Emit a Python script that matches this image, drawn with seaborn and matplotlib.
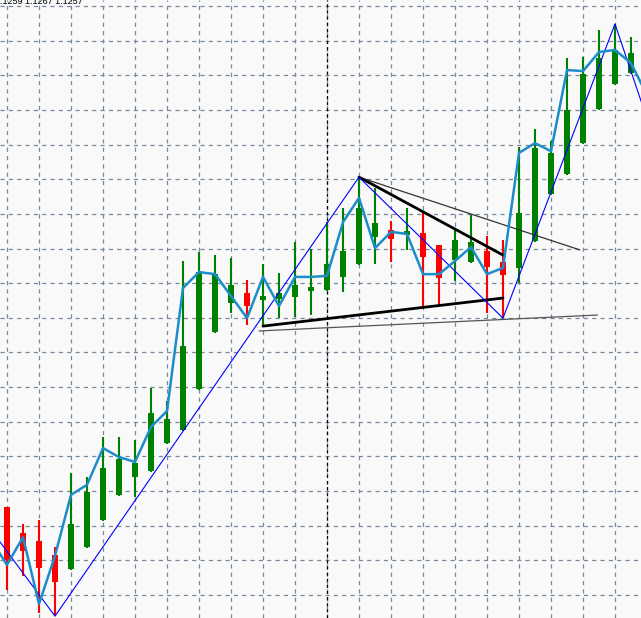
import numpy as np
import pandas as pd
import matplotlib
matplotlib.use("Agg")
import matplotlib.pyplot as plt
import seaborn as sns

# ---------------- data ----------------
bar_index = list(range(40))
open_ = [1.11354, 1.11279, 1.11256, 1.11215, 1.11175, 1.11239, 1.11316, 1.11389, 1.11441, 1.11458,
         1.11539, 1.11576, 1.11695, 1.11859, 1.11943, 1.11972, 1.11951, 1.11954, 1.11960, 1.11977,
         1.11980, 1.12018, 1.12055, 1.12133, 1.12153, 1.12139, 1.12145, 1.12110, 1.12067, 1.12061,
         1.12093, 1.12061, 1.12044, 1.12122, 1.12257, 1.12315, 1.12404, 1.12503, 1.12575, 1.12607]
high = [1.11354, 1.11305, 1.11316, 1.11239, 1.11452, 1.11441, 1.11556, 1.11556, 1.11547, 1.11697,
        1.11660, 1.12064, 1.12090, 1.12081, 1.12073, 1.12009, 1.12055, 1.12029, 1.12119, 1.12099,
        1.12176, 1.12217, 1.12306, 1.12275, 1.12179, 1.12217, 1.12205, 1.12110, 1.12159, 1.12197,
        1.12136, 1.12125, 1.12393, 1.12445, 1.12410, 1.12650, 1.12653, 1.12731, 1.12748, 1.12710]
low = [1.11114, 1.11155, 1.11048, 1.11039, 1.11172, 1.11236, 1.11314, 1.11386, 1.11383, 1.11455,
       1.11536, 1.11573, 1.11692, 1.11856, 1.11914, 1.11879, 1.11873, 1.11899, 1.11902, 1.11908,
       1.11977, 1.11974, 1.12052, 1.12055, 1.12061, 1.12096, 1.11931, 1.11937, 1.12006, 1.12058,
       1.11914, 1.11899, 1.12000, 1.12119, 1.12254, 1.12312, 1.12402, 1.12500, 1.12572, 1.12604]
close = [1.11201, 1.11227, 1.11178, 1.11138, 1.11305, 1.11397, 1.11467, 1.11493, 1.11481, 1.11625,
         1.11608, 1.11819, 1.12032, 1.12026, 1.11995, 1.11934, 1.11963, 1.11972, 1.11995, 1.11989,
         1.12055, 1.12093, 1.12217, 1.12174, 1.12127, 1.12151, 1.12075, 1.12015, 1.12125, 1.12119,
         1.12047, 1.12024, 1.12202, 1.12390, 1.12376, 1.12500, 1.12604, 1.12650, 1.12673, 1.12664]

line_index = list(range(-1, 41))
line_values = [1.11259, 1.11187, 1.11267, 1.11074, 1.11213, 1.11389, 1.11418, 1.11524, 1.11498, 1.11484,
               1.11585, 1.11631, 1.11986, 1.12032, 1.12026, 1.11963, 1.11899, 1.12018, 1.11934, 1.12018,
               1.12018, 1.12021, 1.12176, 1.12246, 1.12101, 1.12148, 1.12142, 1.12026, 1.12026, 1.12064,
               1.12104, 1.12026, 1.12044, 1.12376, 1.12404, 1.12381, 1.12615, 1.12612, 1.12667, 1.12673,
               1.12635, 1.12543]

zigzag_index = [-4, 3, 22, 31, 38, 41]
zigzag_values = [1.11475, 1.11039, 1.12306, 1.11899, 1.12748, 1.12338]

upper_thick_x = [22, 31]
upper_thick_y = [1.12306, 1.12081]
lower_thick_x = [16, 31]
lower_thick_y = [1.11876, 1.11957]
upper_thin_x = [22, 35.8]
upper_thin_y = [1.12306, 1.12096]
lower_thin_x = [15.75, 36.9]
lower_thin_y = [1.11862, 1.11908]

separator_bar = 20
header_text = "1.1259 1.1267 1.1257"

# ---------------- styling ----------------
sns.set_style("white")
plt.rcParams["lines.scale_dashes"] = False

W, H = 641, 618
fig = plt.figure(figsize=(W / 100, H / 100), dpi=100)
ax = fig.add_axes([0, 0, 1, 1])
bg = "#f9f9fa"
fig.patch.set_facecolor(bg)
ax.set_facecolor(bg)

ax.set_xlim((0 - 7) / 16, (W - 7) / 16)
y_bottom = 1.1110 - 23 / 34650
y_top = 1.1110 + 595 / 34650
ax.set_ylim(y_bottom, y_top)

ax.set_xticks(np.arange(0, 40, 2))
ax.set_yticks([round(1.111 + 0.001 * n, 4) for n in range(18)])
ax.grid(True, color="#778899", linestyle=(0, (3, 3)), linewidth=0.9)
ax.set_axisbelow(True)
ax.tick_params(length=0, labelleft=False, labelbottom=False)
for s in ax.spines.values():
    s.set_visible(False)

# period separator
ax.axvline(separator_bar, color="black", linestyle=(0, (2.2, 2.2)), linewidth=0.9, zorder=1)

# candles
df = pd.DataFrame({"i": bar_index, "o": open_, "h": high, "l": low, "c": close})
colors = np.where(df["c"] >= df["o"], "#008000", "#ff0000")
ax.vlines(df["i"], df["l"], df["h"], colors=colors, linewidth=1.5, zorder=2)
body_lo = np.minimum(df["o"], df["c"])
body_h = np.abs(df["c"] - df["o"])
ax.bar(df["i"], body_h, bottom=body_lo, width=0.32, color=colors, linewidth=0, zorder=2)

# trend lines
ax.plot(lower_thin_x, lower_thin_y, color="#555555", linewidth=0.9, zorder=3)
ax.plot(upper_thin_x, upper_thin_y, color="#333333", linewidth=0.9, zorder=3)
ax.plot(upper_thick_x, upper_thick_y, color="black", linewidth=2.0, zorder=3)
ax.plot(lower_thick_x, lower_thick_y, color="black", linewidth=2.0, zorder=3)

# zigzag
zz = pd.DataFrame({"i": zigzag_index, "v": zigzag_values})
sns.lineplot(data=zz, x="i", y="v", ax=ax, color="#0000ff", linewidth=0.8, sort=False, zorder=4)

# smoothed line
ln = pd.DataFrame({"i": line_index, "v": line_values})
sns.lineplot(data=ln, x="i", y="v", ax=ax, color="#1c8dc9", linewidth=1.8, sort=False, zorder=5)

ax.set_xlabel("")
ax.set_ylabel("")
ax.set_xlim((0 - 7) / 16, (W - 7) / 16)
ax.set_ylim(y_bottom, y_top)

fig.text(-5 / W, 1 - 4.5 / H, header_text, fontsize=6.5, family="Liberation Sans",
         va="baseline", ha="left", color="black")

fig.savefig("out.png", dpi=100, facecolor=bg)
